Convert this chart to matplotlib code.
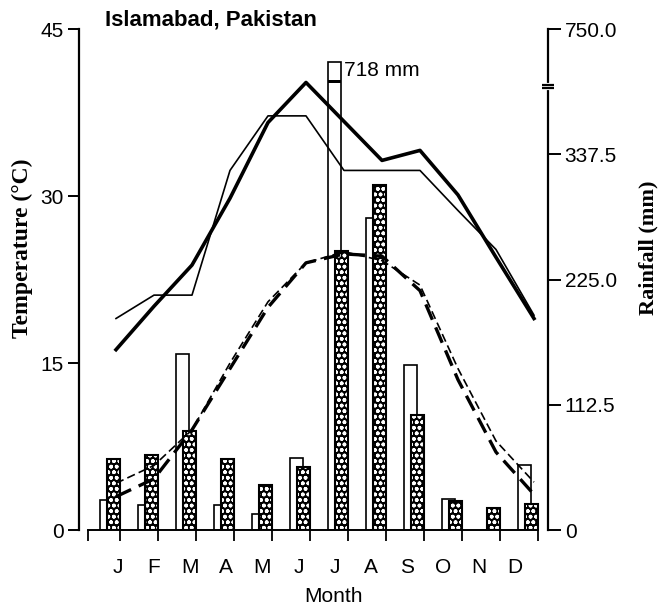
import numpy as np
import matplotlib
matplotlib.use('Agg')
import matplotlib.pyplot as plt
import matplotlib.transforms as mtransforms

plt.rcParams['font.family'] = ['Liberation Sans', 'DejaVu Sans']
plt.rcParams['hatch.linewidth'] = 1.1

months = ['J', 'F', 'M', 'A', 'M', 'J', 'J', 'A', 'S', 'O', 'N', 'D']

# mean monthly temperatures (deg C)
tmax_a = [16.2, 20.1, 23.8, 29.8, 36.6, 40.2, 36.7, 33.2, 34.1, 30.1, 24.5, 19.0]
tmax_b = [19.0, 21.1, 21.1, 32.3, 37.2, 37.2, 32.3, 32.3, 32.3, 28.7, 25.2, 19.3]
tmin_a = [3.0, 4.6, 9.0, 14.5, 20.0, 24.0, 24.8, 24.6, 21.5, 13.5, 7.0, 3.2]
tmin_b = [4.2, 5.8, 9.0, 15.0, 20.5, 24.0, 25.0, 24.2, 22.0, 14.5, 8.0, 4.3]

# monthly rainfall (mm)
rain_open = [27, 22.5, 158, 22.5, 14, 65, 718, 280, 148, 28, 0, 58]
rain_dot = [64, 67, 89, 64, 40, 57, 251, 310, 103, 26, 20, 23]

temp_ticks = [0, 15, 30, 45]
rain_ticks = [0, 112.5, 225.0, 337.5, 750.0]
rain_tick_labels = ['0', '112.5', '225.0', '337.5', '750.0']

# rainfall axis is linear up to the break, squeezed above it
brk_rain = [0, 397, 718, 750]
brk_pos = [0, 397, 420, 450]


def fwd(v):
    return np.interp(v, brk_rain, brk_pos)


def inv(v):
    return np.interp(v, brk_pos, brk_rain)


x = np.arange(12)
bw = 0.34

fig = plt.figure(figsize=(6.61, 6.10), dpi=100)
ax = fig.add_axes([0.1195, 0.1311, 0.7095, 0.8213])
ax2 = ax.twinx()
ax.set_zorder(ax2.get_zorder() + 1)
ax.patch.set_visible(False)

# rainfall bars
ax2.set_yscale('function', functions=(fwd, inv))
ax2.bar(x - 0.24, rain_open, width=bw, facecolor='white', edgecolor='black', lw=1.2)
ax2.bar(x - 0.07, rain_dot, width=bw, facecolor='black', edgecolor='white',
        hatch='ooo', lw=0)
ax2.bar(x - 0.07, rain_dot, width=bw, fill=False, edgecolor='black', lw=1.5)

# break mark across the tallest bar
big = int(np.argmax(rain_open))
ax2.bar(x[big] - 0.24, 45, bottom=455, width=bw, color='black')
ax2.annotate(f'{rain_open[big]:.0f} mm', xy=(x[big] - 0.07, rain_open[big]),
             xytext=(2, 1), textcoords='offset points', ha='left', va='top',
             fontsize=15)

# temperature lines
ax.plot(x, tmax_a, color='black', lw=2.6)
ax.plot(x, tmax_b, color='black', lw=1.2)
ax.plot(x, tmin_a, color='black', lw=2.4, dashes=(5, 2.5))
ax.plot(x, tmin_b, color='black', lw=1.2, dashes=(5, 2.5))

ax.set_xlim(-0.974, 11.368)
ax.set_ylim(0, 45)
ax2.set_ylim(0, 750)

for s in ('top', 'right'):
    ax.spines[s].set_visible(False)
for s in ('top', 'left', 'bottom'):
    ax2.spines[s].set_visible(False)
ax.spines['left'].set_linewidth(1.6)
ax2.spines['right'].set_linewidth(1.6)
ax.spines['bottom'].set_linewidth(1.4)
ax.spines['bottom'].set_bounds(-0.74, 11.1)

ax.set_xticks(0.05 + 0.95 * x, months)
ax.set_xticks([-0.74] + list(x + 0.1), minor=True)
ax.tick_params(axis='x', which='major', length=0, pad=20, labelsize=15)
ax.tick_params(axis='x', which='minor', length=8, width=1.3, direction='out')

ax.set_yticks(temp_ticks)
ax.tick_params(axis='y', length=8, width=1.4, pad=3, labelsize=15)
ax2.set_yticks(rain_ticks, rain_tick_labels)
ax2.yaxis.set_minor_locator(matplotlib.ticker.NullLocator())
ax2.tick_params(axis='y', length=9, width=1.4, pad=3, labelsize=15)

# axis break on the rainfall scale
trans = mtransforms.blended_transform_factory(ax2.transAxes, ax2.transData)
ax2.plot([1, 1], [402, 438], transform=trans, color='white', lw=3,
         clip_on=False, zorder=5)
for yv in (400, 440):
    ax2.plot([0.988, 1.012], [yv, yv], transform=trans, color='black', lw=1.6,
             clip_on=False, zorder=6, solid_capstyle='butt')

fig.text(105 / 661, 1 - 20 / 610, 'Islamabad, Pakistan', fontsize=16,
         fontweight='bold', ha='left', va='center')
fig.text(333 / 661, 1 - 597 / 610, 'Month', fontsize=15, ha='center', va='center')
fig.text(22 / 661, 1 - 248 / 610, 'Temperature (°C)', rotation=90, fontsize=17,
         fontweight='bold', family='Liberation Serif', ha='center', va='center')
fig.text(648 / 661, 1 - 248 / 610, 'Rainfall (mm)', rotation=90, fontsize=16,
         fontweight='bold', family='Liberation Serif', ha='center', va='center')

fig.savefig('out.png', dpi=100)
